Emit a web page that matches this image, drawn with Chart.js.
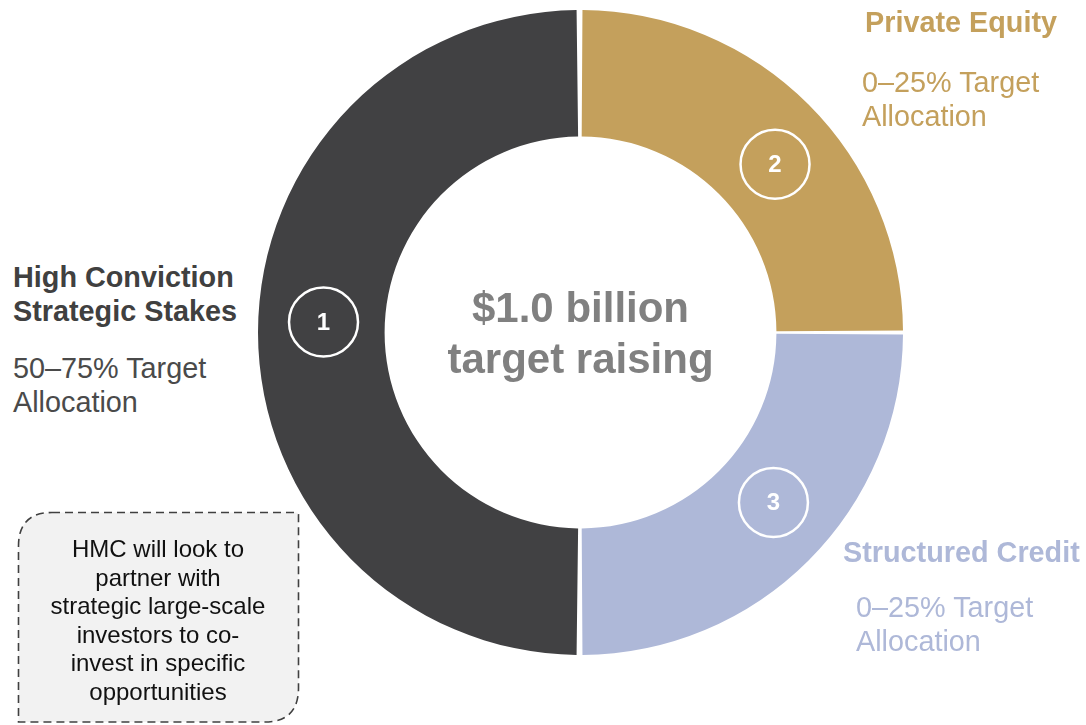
<!DOCTYPE html>
<html>
<head>
<meta charset="utf-8">
<script src="https://cdn.jsdelivr.net/npm/chart.js@4.4.1/dist/chart.umd.min.js"></script>
<style>
  html, body { margin: 0; padding: 0; background: #fff; }
  body { width: 1086px; height: 725px; position: relative; overflow: hidden;
         font-family: "Liberation Sans", Arial, sans-serif; }
  #wrap { position: absolute; left: 258px; top: 10px; width: 645px; height: 645px; }
  .txt { position: absolute; white-space: nowrap; }
  .head { font-weight: bold; }
  #noteBox { position: absolute; left: 0; top: 0; }
  #note { position: absolute; left: 18px; top: 512px; width: 280px; height: 210px;
          text-align: center; color: #111;
          font-size: 24px; line-height: 28.6px; padding-top: 23px; box-sizing: border-box; }
</style>
</head>
<body>
<div id="wrap"><canvas id="donut"></canvas></div>
<div id="labels"></div>
<svg id="noteBox" width="1086" height="725">
  <path d="M 52 512.5 L 296.5 512.5 Q 298.5 512.5 298.5 514.5 L 298.5 688 Q 298.5 722 264.5 722 L 18.5 722 L 18.5 546 Q 18.5 512.5 52 512.5 Z"
        fill="#f2f2f2" stroke="#404040" stroke-width="1.6" stroke-dasharray="8 5"/>
</svg>
<div id="note">HMC will look to<br>partner with<br>strategic large-scale<br>investors to co-<br>invest in specific<br>opportunities</div>
<script>
// =========================
// DADOS
// =========================
const categories = ["Private Equity", "Structured Credit", "High Conviction Strategic Stakes"];
const shares = [25, 25, 50];
const ranges = ["0–25%", "0–25%", "50–75%"];
const badges = ["2", "3", "1"];
const colors = ["#c4a05c", "#aeb8d8", "#414143"];
const centerLines = ["$1.0 billion", "target raising"];

// where along each arc the numbered circle sits (0 = start, 1 = end)
const badgeAt = [0.546, 0.46, 0.513];

// =========================
// PLUGINS
// =========================
const badgePlugin = {
    id: "badges",
    afterDatasetsDraw(chart) {
        const ctx = chart.ctx;
        chart.getDatasetMeta(0).data.forEach((arc, i) => {
            const p = arc.getProps(["x", "y", "startAngle", "endAngle", "innerRadius", "outerRadius"], true);
            const a = p.startAngle + (p.endAngle - p.startAngle) * badgeAt[i];
            const r = (p.innerRadius + p.outerRadius) / 2;
            const cx = p.x + Math.cos(a) * r;
            const cy = p.y + Math.sin(a) * r;
            ctx.save();
            ctx.beginPath();
            ctx.arc(cx, cy, 34.5, 0, Math.PI * 2);
            ctx.strokeStyle = "#fff";
            ctx.lineWidth = 2.5;
            ctx.stroke();
            ctx.fillStyle = "#fff";
            ctx.font = "bold 24px 'Liberation Sans', Arial, sans-serif";
            ctx.textAlign = "center";
            ctx.textBaseline = "middle";
            ctx.fillText(badges[i], cx, cy + 1);
            ctx.restore();
        });
    }
};

const centerPlugin = {
    id: "centerText",
    afterDraw(chart) {
        const arc = chart.getDatasetMeta(0).data[0];
        const ctx = chart.ctx;
        ctx.save();
        ctx.fillStyle = "#808080";
        ctx.font = "bold 42px 'Liberation Sans', Arial, sans-serif";
        ctx.textAlign = "center";
        ctx.textBaseline = "alphabetic";
        ctx.fillText(centerLines[0], arc.x, arc.y - 11);
        ctx.fillText(centerLines[1], arc.x, arc.y + 40);
        ctx.restore();
    }
};

// =========================
// GRÁFICO
// =========================
new Chart(document.getElementById("donut"), {
    type: "doughnut",
    data: {
        labels: categories,
        datasets: [{
            data: shares,
            backgroundColor: colors,
            borderWidth: 0,
            spacing: 4
        }]
    },
    options: {
        responsive: true,
        maintainAspectRatio: false,
        animation: false,
        events: [],
        cutout: "60.5%",
        layout: { padding: 0 },
        plugins: { legend: { display: false }, tooltip: { enabled: false } }
    },
    plugins: [badgePlugin, centerPlugin]
});

// =========================
// RÓTULOS
// =========================
const labelPos = [
    { x: 865, base: 32, subX: 862, subBase: 91.7 },
    { x: 843, base: 561.7, subX: 856, subBase: 616.7 },
    { x: 13, base: 287, subX: 13, subBase: 377.7 }
];

function place(text, x, baseline, size, bold, color, lh) {
    const el = document.createElement("div");
    el.className = "txt" + (bold ? " head" : "");
    el.style.fontSize = size + "px";
    el.style.lineHeight = lh + "px";
    el.style.color = color;
    el.style.left = x + "px";
    el.style.top = (baseline - (lh - 1.117 * size) / 2 - 0.905 * size) + "px";
    el.innerHTML = text;
    document.getElementById("labels").appendChild(el);
}

const textColors = ["#c4a05c", "#aeb8d8", "#404040"];
categories.forEach((c, i) => {
    const p = labelPos[i];
    const head = i === 2 ? "High Conviction<br>Strategic Stakes" : c;
    place(head, p.x, p.base, 28.8, true, textColors[i], 34);
    place(ranges[i] + " Target<br>Allocation", p.subX, p.subBase, 28.8, false, i === 2 ? "#4a4a4a" : textColors[i], 34);
});
</script>
</body>
</html>
